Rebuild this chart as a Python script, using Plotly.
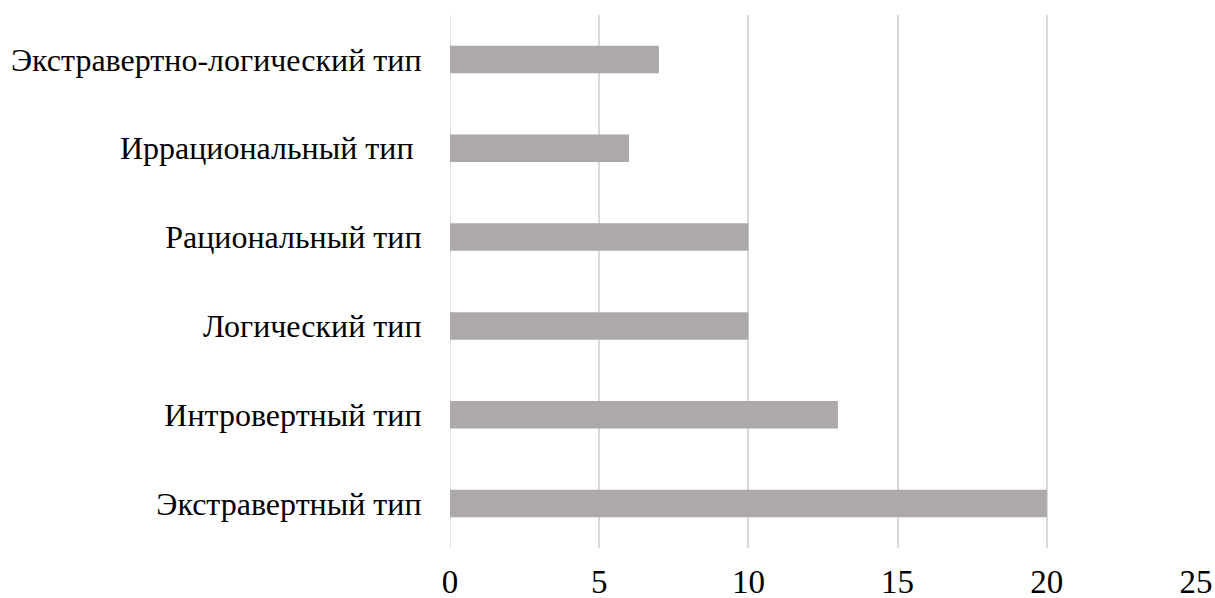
import plotly.graph_objects as go

categories = ["Экстравертный тип", "Интровертный тип", "Логический тип",
              "Рациональный тип", "Иррациональный тип ", "Экстравертно-логический тип"]
values = [20, 13, 10, 10, 6, 7]
tick_vals = [0, 5, 10, 15, 20, 25]

fig = go.Figure(go.Bar(
    x=values, y=categories, orientation="h",
    marker=dict(color="#ADA9A8", line=dict(width=0)),
    width=0.31,
))

fig.update_layout(
    width=1215, height=598,
    margin=dict(l=450, r=19, t=15, b=50, autoexpand=False),
    paper_bgcolor="white", plot_bgcolor="white",
    font=dict(family="Liberation Serif, Times New Roman, serif", color="black"),
    showlegend=False,
    xaxis=dict(range=[0, 25], tickvals=tick_vals, showgrid=True, gridcolor="#D9D9D9",
               gridwidth=1.5, zeroline=False, showline=False, automargin=False,
               ticks="outside", ticklen=4, tickcolor="rgba(0,0,0,0)",
               tickfont=dict(size=33), fixedrange=True),
    yaxis=dict(showgrid=False, zeroline=False, showline=False, automargin=False,
               ticks="outside", ticklen=21, tickcolor="rgba(0,0,0,0)",
               tickfont=dict(size=32), fixedrange=True),
)
fig.add_shape(type="line", xref="x", yref="paper", x0=0, x1=0, y0=0, y1=1,
              line=dict(color="#D9D9D9", width=1.5), layer="below")

fig.write_html("out.html", config={"displayModeBar": False},
               post_script="document.body.style.margin='0';document.body.style.overflow='hidden';")
